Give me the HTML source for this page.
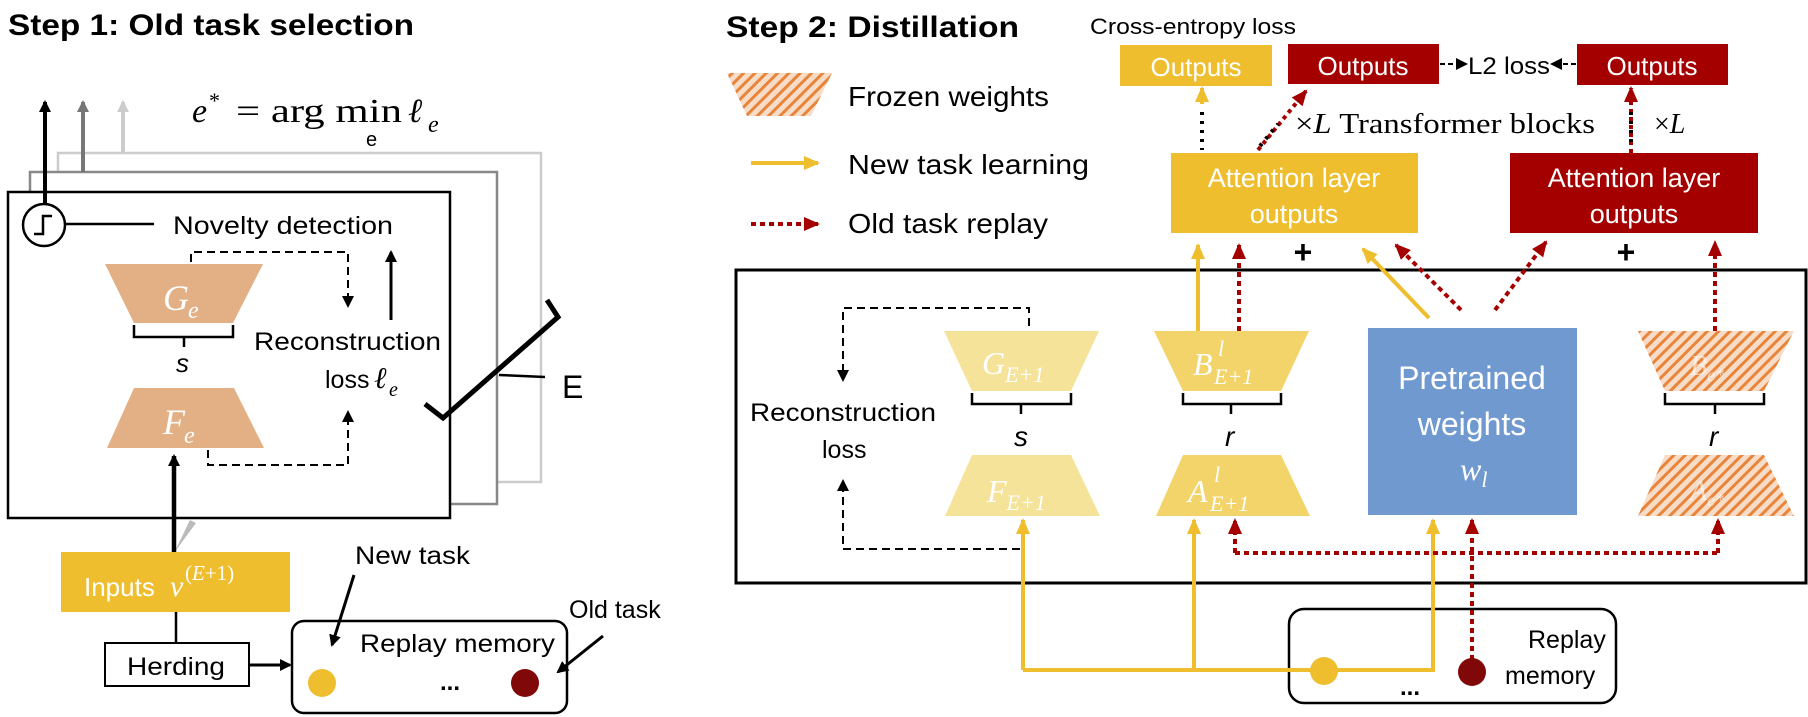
<!DOCTYPE html>
<html><head><meta charset="utf-8"><style>
html,body{margin:0;padding:0;background:#fff;}
svg{display:block;}
text{font-family:"Liberation Sans",sans-serif;}
.s{font-family:"Liberation Serif",serif;}
</style></head><body>
<svg width="1808" height="717" viewBox="0 0 1808 717" xmlns="http://www.w3.org/2000/svg">
<defs>
<marker id="ab" markerWidth="6" markerHeight="6" refX="5" refY="3" orient="auto" markerUnits="strokeWidth"><path d="M0,0 L6,3 L0,6 Z" fill="#000"/></marker>
<marker id="abs" markerWidth="12" markerHeight="12" refX="10" refY="6" orient="auto" markerUnits="userSpaceOnUse"><path d="M0,0 L12,6 L0,12 Z" fill="#000"/></marker>
<marker id="ag" markerWidth="12" markerHeight="12" refX="10" refY="6" orient="auto" markerUnits="userSpaceOnUse"><path d="M0,0 L12,6 L0,12 Z" fill="#777"/></marker>
<marker id="al" markerWidth="12" markerHeight="12" refX="10" refY="6" orient="auto" markerUnits="userSpaceOnUse"><path d="M0,0 L12,6 L0,12 Z" fill="#ccc"/></marker>
<marker id="ay" markerWidth="16" markerHeight="16" refX="14" refY="8" orient="auto" markerUnits="userSpaceOnUse"><path d="M0,1 L16,8 L0,15 Z" fill="#EFBE2E"/></marker>
<marker id="ar" markerWidth="16" markerHeight="16" refX="14" refY="8" orient="auto" markerUnits="userSpaceOnUse"><path d="M0,1 L16,8 L0,15 Z" fill="#A50000"/></marker>
<pattern id="hatch" width="8" height="8" patternUnits="userSpaceOnUse" patternTransform="rotate(45)">
<rect width="8" height="8" fill="#F7DCC8"/><rect width="3" height="8" fill="#E8853A"/></pattern>
</defs>

<!-- Step 1 -->
<text x="8" y="35" font-size="30" font-weight="bold" textLength="406" lengthAdjust="spacingAndGlyphs">Step 1: Old task selection</text>
<rect x="58" y="153" width="483" height="329" fill="#fff" stroke="#ccc" stroke-width="2.5"/>
<rect x="30" y="172" width="467" height="332" fill="#fff" stroke="#888" stroke-width="2.5"/>
<rect x="8" y="192" width="442" height="326" fill="#fff" stroke="#000" stroke-width="2.5"/>
<line x1="123" y1="153" x2="123" y2="102" stroke="#ccc" stroke-width="4" marker-end="url(#al)"/>
<line x1="83" y1="172" x2="83" y2="102" stroke="#777" stroke-width="4" marker-end="url(#ag)"/>
<line x1="45" y1="203" x2="45" y2="102" stroke="#000" stroke-width="4" marker-end="url(#abs)"/>
<text class="s" x="192" y="122" font-size="34" font-style="italic">e</text>
<text class="s" x="209" y="108" font-size="22">*</text>
<text class="s" x="236" y="122" font-size="34" textLength="166" lengthAdjust="spacingAndGlyphs">= arg min</text>
<text class="s" x="408" y="122" font-size="34" font-style="italic">ℓ</text>
<text class="s" x="428" y="132" font-size="24" font-style="italic">e</text>
<text x="366" y="146" font-size="20">e</text>
<circle cx="44" cy="225" r="21" fill="#fff" stroke="#000" stroke-width="2.5"/>
<path d="M34,234 H43 V216 H52" fill="none" stroke="#000" stroke-width="2.5"/>
<line x1="65" y1="224" x2="154" y2="224" stroke="#000" stroke-width="2.5"/>
<text x="173" y="234" font-size="25" textLength="220" lengthAdjust="spacingAndGlyphs">Novelty detection</text>
<polygon points="105,264 263,264 233,323 134,323" fill="#E2B084"/>
<text class="s" x="163" y="310" font-size="36" font-style="italic" fill="#fff">G</text><text class="s" x="188" y="318" font-size="24" font-style="italic" fill="#fff">e</text>
<path d="M134,325 V337 H233 V325 M184,337 V347" fill="none" stroke="#000" stroke-width="2.5"/>
<text x="176" y="372" font-size="26" font-style="italic">s</text>
<polygon points="134,388 234,388 264,448 107,448" fill="#E2B084"/>
<text class="s" x="163" y="434" font-size="36" font-style="italic" fill="#fff">F</text><text class="s" x="184" y="443" font-size="24" font-style="italic" fill="#fff">e</text>
<path d="M191,262 V252 H348 V306" fill="none" stroke="#000" stroke-width="2" stroke-dasharray="8,5" marker-end="url(#ab)"/>
<line x1="391" y1="320" x2="391" y2="252" stroke="#000" stroke-width="3" marker-end="url(#abs)"/>
<text x="254" y="350" font-size="25" textLength="187" lengthAdjust="spacingAndGlyphs">Reconstruction</text>
<text x="325" y="388" font-size="25">loss</text>
<text class="s" x="374" y="388" font-size="30" font-style="italic">ℓ</text><text class="s" x="389" y="396" font-size="20" font-style="italic">e</text>
<path d="M208,450 V465 H348 V412" fill="none" stroke="#000" stroke-width="2" stroke-dasharray="8,5" marker-end="url(#ab)"/>
<polyline points="425,404 443,418 558,317 547,300" fill="none" stroke="#000" stroke-width="5"/>
<line x1="499" y1="375" x2="545" y2="377" stroke="#000" stroke-width="2.5"/>
<text x="562" y="398" font-size="32">E</text>
<polygon points="174,553 190,520 196,523" fill="#bbb"/>
<line x1="174" y1="553" x2="174" y2="456" stroke="#000" stroke-width="4.5" marker-end="url(#abs)"/>
<rect x="61" y="552" width="229" height="60" fill="#EFBE2E"/>
<text x="84" y="596" font-size="26" fill="#fff">Inputs</text>
<text class="s" x="170" y="596" font-size="30" font-style="italic" fill="#fff">v</text>
<text class="s" x="185" y="580" font-size="21" fill="#fff">(<tspan font-style="italic">E</tspan>+1)</text>
<line x1="176" y1="612" x2="176" y2="643" stroke="#000" stroke-width="2.5"/>
<rect x="105" y="643" width="144" height="43" fill="#fff" stroke="#000" stroke-width="2"/>
<text x="127" y="675" font-size="25" textLength="98" lengthAdjust="spacingAndGlyphs">Herding</text>
<line x1="249" y1="665" x2="290" y2="665" stroke="#000" stroke-width="3" marker-end="url(#abs)"/>
<rect x="292" y="621" width="275" height="92" rx="12" fill="#fff" stroke="#000" stroke-width="2.5"/>
<text x="360" y="652" font-size="25" textLength="195" lengthAdjust="spacingAndGlyphs">Replay memory</text>
<circle cx="322" cy="683" r="14" fill="#EFBE2E"/>
<circle cx="525" cy="683" r="14" fill="#800808"/>
<text x="440" y="690" font-size="24" font-weight="bold">...</text>
<text x="355" y="564" font-size="25" textLength="115" lengthAdjust="spacingAndGlyphs">New task</text>
<line x1="354" y1="575" x2="332" y2="645" stroke="#000" stroke-width="3" marker-end="url(#abs)"/>
<text x="569" y="618" font-size="25">Old task</text>
<line x1="603" y1="636" x2="558" y2="672" stroke="#000" stroke-width="3" marker-end="url(#abs)"/>

<!-- Step 2 -->
<text x="726" y="37" font-size="30" font-weight="bold" textLength="293" lengthAdjust="spacingAndGlyphs">Step 2: Distillation</text>
<polygon points="727,73 832,73 811,116 747,116" fill="url(#hatch)"/>
<text x="848" y="106" font-size="28" textLength="201" lengthAdjust="spacingAndGlyphs">Frozen weights</text>
<line x1="751" y1="163" x2="818" y2="163" stroke="#EFBE2E" stroke-width="4" marker-end="url(#ay)"/>
<text x="848" y="174" font-size="28" textLength="241" lengthAdjust="spacingAndGlyphs">New task learning</text>
<line x1="751" y1="224" x2="818" y2="224" stroke="#A50000" stroke-width="4" stroke-dasharray="5,4" marker-end="url(#ar)"/>
<text x="848" y="233" font-size="28" textLength="200" lengthAdjust="spacingAndGlyphs">Old task replay</text>
<text x="1090" y="34" font-size="22" textLength="206" lengthAdjust="spacingAndGlyphs">Cross-entropy loss</text>

<rect x="1120" y="45" width="152" height="41" fill="#EFBE2E"/>
<text x="1196" y="76" font-size="26" fill="#fff" text-anchor="middle">Outputs</text>
<rect x="1288" y="44" width="151" height="40" fill="#A50000"/>
<text x="1363" y="75" font-size="26" fill="#fff" text-anchor="middle">Outputs</text>
<rect x="1577" y="44" width="151" height="41" fill="#A50000"/>
<text x="1652" y="75" font-size="26" fill="#fff" text-anchor="middle">Outputs</text>
<line x1="1440" y1="64" x2="1466" y2="64" stroke="#000" stroke-width="2" stroke-dasharray="5,3" marker-end="url(#ab)"/>
<text x="1468" y="74" font-size="24" textLength="82" lengthAdjust="spacingAndGlyphs">L2 loss</text>
<line x1="1576" y1="64" x2="1552" y2="64" stroke="#000" stroke-width="2" stroke-dasharray="5,3" marker-end="url(#ab)"/>

<rect x="1171" y="153" width="247" height="80" fill="#EFBE2E"/>
<text x="1294" y="187" font-size="27" fill="#fff" text-anchor="middle">Attention layer</text>
<text x="1294" y="223" font-size="27" fill="#fff" text-anchor="middle">outputs</text>
<rect x="1510" y="153" width="248" height="80" fill="#A50000"/>
<text x="1634" y="187" font-size="27" fill="#fff" text-anchor="middle">Attention layer</text>
<text x="1634" y="223" font-size="27" fill="#fff" text-anchor="middle">outputs</text>

<line x1="1202" y1="104" x2="1202" y2="88" stroke="#EFBE2E" stroke-width="4" marker-end="url(#ay)"/>
<line x1="1202" y1="112" x2="1202" y2="150" stroke="#000" stroke-width="4" stroke-dasharray="3,6"/>
<line x1="1258" y1="150" x2="1306" y2="91" stroke="#A50000" stroke-width="4" stroke-dasharray="4,4" marker-end="url(#ar)"/>
<line x1="1260" y1="146" x2="1278" y2="124" stroke="#000" stroke-width="4" stroke-dasharray="3,6"/>
<text class="s" x="1295" y="133" font-size="28" textLength="300" lengthAdjust="spacingAndGlyphs"><tspan>×</tspan><tspan font-style="italic">L</tspan> Transformer blocks</text>
<line x1="1631" y1="153" x2="1631" y2="88" stroke="#A50000" stroke-width="4" stroke-dasharray="4,4" marker-end="url(#ar)"/>
<line x1="1631" y1="112" x2="1631" y2="142" stroke="#000" stroke-width="4" stroke-dasharray="3,6"/>
<text class="s" x="1654" y="133" font-size="28">×<tspan font-style="italic">L</tspan></text>
<text x="1303" y="263" font-size="32" font-weight="bold" text-anchor="middle">+</text>
<text x="1626" y="263" font-size="32" font-weight="bold" text-anchor="middle">+</text>

<rect x="736" y="270" width="1070" height="313" fill="none" stroke="#000" stroke-width="3"/>

<line x1="1198" y1="331" x2="1198" y2="245" stroke="#EFBE2E" stroke-width="4" marker-end="url(#ay)"/>
<line x1="1239" y1="331" x2="1239" y2="245" stroke="#A50000" stroke-width="4" stroke-dasharray="5,4" marker-end="url(#ar)"/>
<line x1="1429" y1="318" x2="1363" y2="249" stroke="#EFBE2E" stroke-width="4" marker-end="url(#ay)"/>
<line x1="1461" y1="310" x2="1396" y2="245" stroke="#A50000" stroke-width="4" stroke-dasharray="5,4" marker-end="url(#ar)"/>
<line x1="1495" y1="310" x2="1546" y2="242" stroke="#A50000" stroke-width="4" stroke-dasharray="5,4" marker-end="url(#ar)"/>
<line x1="1715" y1="331" x2="1715" y2="242" stroke="#A50000" stroke-width="4" stroke-dasharray="5,4" marker-end="url(#ar)"/>

<path d="M1029,326 V308 H843 V380" fill="none" stroke="#000" stroke-width="2" stroke-dasharray="8,5" marker-end="url(#ab)"/>
<text x="750" y="421" font-size="25" textLength="186" lengthAdjust="spacingAndGlyphs">Reconstruction</text>
<text x="822" y="458" font-size="25">loss</text>
<path d="M1020,549 H843 V481" fill="none" stroke="#000" stroke-width="2" stroke-dasharray="8,5" marker-end="url(#ab)"/>

<polygon points="944,331 1099,331 1071,391 972,391" fill="#F6E39A"/>
<text class="s" x="982" y="374" font-size="32" font-style="italic" fill="#fff">G<tspan font-size="22" dy="8">E+1</tspan></text>
<path d="M972,393 V404 H1071 V393 M1021,404 V414" fill="none" stroke="#000" stroke-width="2.5"/>
<text x="1014" y="446" font-size="28" font-style="italic">s</text>
<polygon points="972,455 1071,455 1100,516 945,516" fill="#F6E39A"/>
<text class="s" x="987" y="502" font-size="32" font-style="italic" fill="#fff">F<tspan font-size="22" dy="8">E+1</tspan></text>

<polygon points="1154,331 1309,331 1281,391 1183,391" fill="#F3D46A"/>
<text class="s" x="1193" y="375" font-size="32" font-style="italic" fill="#fff">B</text>
<text class="s" x="1218" y="356" font-size="22" font-style="italic" fill="#fff">l</text>
<text class="s" x="1214" y="384" font-size="22" font-style="italic" fill="#fff">E+1</text>
<path d="M1183,393 V404 H1281 V393 M1231,404 V414" fill="none" stroke="#000" stroke-width="2.5"/>
<text x="1225" y="446" font-size="28" font-style="italic">r</text>
<polygon points="1183,455 1281,455 1310,516 1156,516" fill="#F3D46A"/>
<text class="s" x="1188" y="502" font-size="32" font-style="italic" fill="#fff">A</text>
<text class="s" x="1214" y="482" font-size="22" font-style="italic" fill="#fff">l</text>
<text class="s" x="1210" y="511" font-size="22" font-style="italic" fill="#fff">E+1</text>

<rect x="1368" y="328" width="209" height="187" fill="#7099D0"/>
<text x="1472" y="389" font-size="32" fill="#fff" text-anchor="middle">Pretrained</text>
<text x="1472" y="435" font-size="32" fill="#fff" text-anchor="middle">weights</text>
<text class="s" x="1460" y="480" font-size="32" font-style="italic" fill="#fff">w<tspan font-size="22" dy="7">l</tspan></text>

<polygon points="1638,331 1794,331 1764,391 1665,391" fill="url(#hatch)"/>
<text class="s" x="1690" y="375" font-size="28" font-style="italic" fill="#fff" opacity="0.6">B<tspan font-size="18" dy="6">e*</tspan></text>
<path d="M1665,393 V404 H1764 V393 M1715,404 V414" fill="none" stroke="#000" stroke-width="2.5"/>
<text x="1709" y="446" font-size="28" font-style="italic">r</text>
<polygon points="1665,455 1764,455 1794,516 1638,516" fill="url(#hatch)"/>
<text class="s" x="1690" y="500" font-size="28" font-style="italic" fill="#fff" opacity="0.6">A<tspan font-size="18" dy="6">e*</tspan></text>

<rect x="1289" y="609" width="327" height="94" rx="15" fill="#fff" stroke="#000" stroke-width="2.5"/>
<text x="1528" y="648" font-size="25">Replay</text>
<text x="1505" y="684" font-size="25">memory</text>
<text x="1400" y="695" font-size="24" font-weight="bold">...</text>

<path d="M1023,670 V520" fill="none" stroke="#EFBE2E" stroke-width="4" marker-end="url(#ay)"/>
<path d="M1194,670 V520" fill="none" stroke="#EFBE2E" stroke-width="4" marker-end="url(#ay)"/>
<path d="M1023,670 H1433 V520" fill="none" stroke="#EFBE2E" stroke-width="4" marker-end="url(#ay)"/>
<circle cx="1324" cy="671" r="14" fill="#EFBE2E"/>
<path d="M1235,553 V520" fill="none" stroke="#A50000" stroke-width="4" stroke-dasharray="5,4" marker-end="url(#ar)"/>
<path d="M1718,553 V520" fill="none" stroke="#A50000" stroke-width="4" stroke-dasharray="5,4" marker-end="url(#ar)"/>
<line x1="1235" y1="553" x2="1718" y2="553" stroke="#A50000" stroke-width="4" stroke-dasharray="5,4"/>
<path d="M1472,660 V520" fill="none" stroke="#A50000" stroke-width="4" stroke-dasharray="5,4" marker-end="url(#ar)"/>
<circle cx="1472" cy="672" r="14" fill="#800808"/>
</svg>
</body></html>
